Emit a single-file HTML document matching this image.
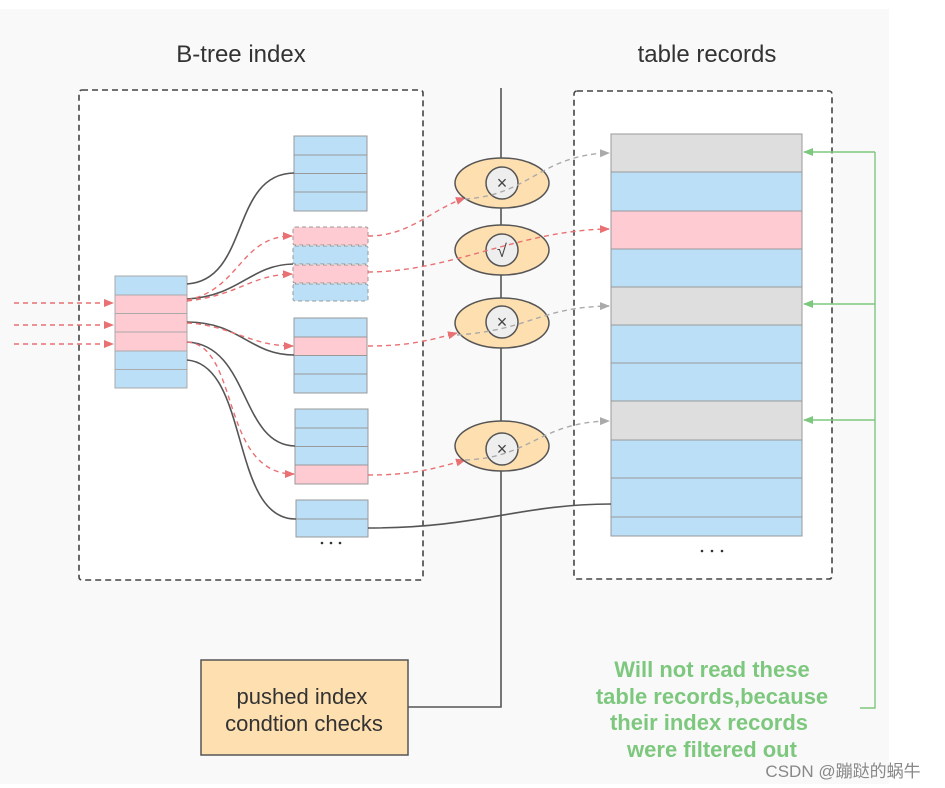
<!DOCTYPE html>
<html><head><meta charset="utf-8"><style>
html,body{margin:0;padding:0;background:#fff;}
svg{display:block;font-family:"Liberation Sans","Noto Sans CJK SC",sans-serif;}
</style></head><body>
<svg width="945" height="788" viewBox="0 0 945 788" xmlns="http://www.w3.org/2000/svg">
<defs>
<marker id="ar" markerWidth="10" markerHeight="10" refX="9" refY="5" orient="auto" markerUnits="userSpaceOnUse"><path d="M0,1 L10,5 L0,9z" fill="#e97073"/></marker>
<marker id="ag" markerWidth="10" markerHeight="10" refX="9" refY="5" orient="auto" markerUnits="userSpaceOnUse"><path d="M0,1 L10,5 L0,9z" fill="#aaa"/></marker>
<marker id="agr" markerWidth="10" markerHeight="10" refX="9" refY="5" orient="auto" markerUnits="userSpaceOnUse"><path d="M0,1 L10,5 L0,9z" fill="#7dc87e"/></marker>
</defs>
<rect x="0" y="9" width="889" height="775" fill="#f9f9f9"/>
<text x="241" y="62" font-size="24" fill="#333" text-anchor="middle">B-tree index</text>
<text x="707" y="62" font-size="24" fill="#333" text-anchor="middle">table records</text>
<rect x="79" y="90" width="344" height="490" fill="#fff" stroke="#444" stroke-width="1.6" stroke-dasharray="6,4" rx="3"/>
<rect x="574" y="91" width="258" height="488" fill="#fff" stroke="#444" stroke-width="1.6" stroke-dasharray="6,4" rx="3"/>

<g stroke="#aaa" stroke-width="1">
<rect x="115" y="276" width="72" height="19" fill="#bcdff8"/>
<rect x="115" y="295" width="72" height="18.5" fill="#fecbd3"/>
<rect x="115" y="313.5" width="72" height="18.5" fill="#fecbd3"/>
<rect x="115" y="332" width="72" height="19" fill="#fecbd3"/>
<rect x="115" y="351" width="72" height="18.5" fill="#bcdff8"/>
<rect x="115" y="369.5" width="72" height="18.5" fill="#bcdff8"/>
</g>
<g stroke="#999" stroke-width="1">
<rect x="294" y="136" width="73" height="19" fill="#bcdff8"/>
<rect x="294" y="155" width="73" height="18.5" fill="#bcdff8"/>
<rect x="294" y="173.5" width="73" height="18.5" fill="#bcdff8"/>
<rect x="294" y="192" width="73" height="19" fill="#bcdff8"/>
</g>
<g stroke="#999" stroke-width="1" stroke-dasharray="4,3">
<rect x="293" y="227" width="75" height="18" fill="#fecbd3" rx="2"/>
<rect x="293" y="246" width="75" height="18" fill="#bcdff8" rx="2"/>
<rect x="293" y="265" width="75" height="18" fill="#fecbd3" rx="2"/>
<rect x="293" y="284" width="75" height="17" fill="#bcdff8" rx="2"/>
</g>
<g stroke="#999" stroke-width="1">
<rect x="294" y="318" width="73" height="19" fill="#bcdff8"/>
<rect x="294" y="337" width="73" height="18.5" fill="#fecbd3"/>
<rect x="294" y="355.5" width="73" height="18.5" fill="#bcdff8"/>
<rect x="294" y="374" width="73" height="19" fill="#bcdff8"/>
<rect x="295" y="409" width="73" height="19" fill="#bcdff8"/>
<rect x="295" y="428" width="73" height="18.5" fill="#bcdff8"/>
<rect x="295" y="446.5" width="73" height="18.5" fill="#bcdff8"/>
<rect x="295" y="465" width="73" height="19" fill="#fecbd3"/>
<rect x="296" y="500" width="72" height="19" fill="#bcdff8"/>
<rect x="296" y="519" width="72" height="18" fill="#bcdff8"/>
</g>
<g fill="#333"><circle cx="322" cy="543" r="1.3"/><circle cx="331" cy="543" r="1.3"/><circle cx="340" cy="543" r="1.3"/></g>

<g stroke="#999" stroke-width="1">
<rect x="611" y="134" width="191" height="38" fill="#dedede"/>
<rect x="611" y="172" width="191" height="39" fill="#bcdff8"/>
<rect x="611" y="211" width="191" height="38" fill="#fecbd3"/>
<rect x="611" y="249" width="191" height="38" fill="#bcdff8"/>
<rect x="611" y="287" width="191" height="38" fill="#dedede"/>
<rect x="611" y="325" width="191" height="38" fill="#bcdff8"/>
<rect x="611" y="363" width="191" height="38" fill="#bcdff8"/>
<rect x="611" y="401" width="191" height="39" fill="#dedede"/>
<rect x="611" y="440" width="191" height="38" fill="#bcdff8"/>
<rect x="611" y="478" width="191" height="39" fill="#bcdff8"/>
<rect x="611" y="517" width="191" height="19" fill="#bcdff8"/>
</g>
<g fill="#333"><circle cx="702" cy="551" r="1.3"/><circle cx="712" cy="551" r="1.3"/><circle cx="722" cy="551" r="1.3"/></g>

<g fill="none" stroke="#555" stroke-width="1.6">
<path d="M187,284 C250,280 230,174 294,173"/>
<path d="M187,299 C240,296 250,265 293,264"/>
<path d="M187,322 C240,322 250,355 294,355"/>
<path d="M187,342 C250,345 240,445 295,446"/>
<path d="M187,360 C250,365 230,520 296,519"/>
<path d="M368,528 C480,528 520,504 611,504"/>
<path d="M501,88 V707 H408"/>
</g>
<g fill="none" stroke="#e97073" stroke-width="1.4" stroke-dasharray="5,4">
<path d="M14,303 H113" marker-end="url(#ar)"/>
<path d="M14,325 H113" marker-end="url(#ar)"/>
<path d="M14,344 H113" marker-end="url(#ar)"/>
<path d="M187,300 C240,290 240,236 292,236" marker-end="url(#ar)"/>
<path d="M187,301 C240,295 250,275 292,274" marker-end="url(#ar)"/>
<path d="M187,323 C230,325 250,346 293,346" marker-end="url(#ar)"/>
<path d="M187,342 C240,345 220,474 294,474" marker-end="url(#ar)"/>
<path d="M368,236 C410,236 430,210 465,198" marker-end="url(#ar)"/>
<path d="M368,346 C410,346 430,340 457,333" marker-end="url(#ar)"/>
<path d="M368,475 C410,475 430,470 465,460" marker-end="url(#ar)"/>
</g>
<g stroke="#555" stroke-width="1.5">
<ellipse cx="502" cy="183" rx="47" ry="25" fill="#fedfb0"/>
<ellipse cx="502" cy="250" rx="47" ry="25" fill="#fedfb0"/>
<ellipse cx="502" cy="323" rx="47" ry="25" fill="#fedfb0"/>
<ellipse cx="502" cy="446" rx="47" ry="25" fill="#fedfb0"/>
<circle cx="502" cy="183" r="16" fill="#eee"/>
<circle cx="502" cy="250" r="16" fill="#eee"/>
<circle cx="502" cy="322" r="16" fill="#eee"/>
<circle cx="502" cy="449" r="16" fill="#eee"/>
</g>
<g font-size="18" fill="#444" text-anchor="middle">
<text x="502" y="189">×</text>
<text x="502" y="257">√</text>
<text x="502" y="328">×</text>
<text x="502" y="455">×</text>
</g>
<path d="M368,272 C450,272 520,230 609,229" fill="none" stroke="#e97073" stroke-width="1.4" stroke-dasharray="5,4" marker-end="url(#ar)"/>
<g fill="none" stroke="#aaa" stroke-width="1.4" stroke-dasharray="5,4">
<path d="M465,199 C530,195 540,155 609,153" marker-end="url(#ag)"/>
<path d="M457,335 C530,330 540,307 609,306" marker-end="url(#ag)"/>
<path d="M465,460 C530,458 540,422 609,421" marker-end="url(#ag)"/>
</g>
<g fill="none" stroke="#7dc87e" stroke-width="1.4">
<path d="M875,152 V708 H860"/>
<path d="M875,152 H804" marker-end="url(#agr)"/>
<path d="M875,304 H804" marker-end="url(#agr)"/>
<path d="M875,420 H804" marker-end="url(#agr)"/>
</g>
<g font-size="22" font-weight="bold" fill="#7dc87e" text-anchor="middle">
<text x="712" y="677">Will not read these</text>
<text x="712" y="704">table records,because</text>
<text x="709" y="730">their index records</text>
<text x="712" y="757">were filtered out</text>
</g>
<rect x="201" y="660" width="207" height="95" fill="#fedfb0" stroke="#555" stroke-width="1.5"/>
<text x="302" y="704" font-size="22" fill="#333" text-anchor="middle">pushed index</text>
<text x="304" y="731" font-size="22" fill="#333" text-anchor="middle">condtion checks</text>
<text x="843" y="777" font-size="17" fill="#888" text-anchor="middle">CSDN @蹦跶的蜗牛</text>
</svg>
</body></html>
